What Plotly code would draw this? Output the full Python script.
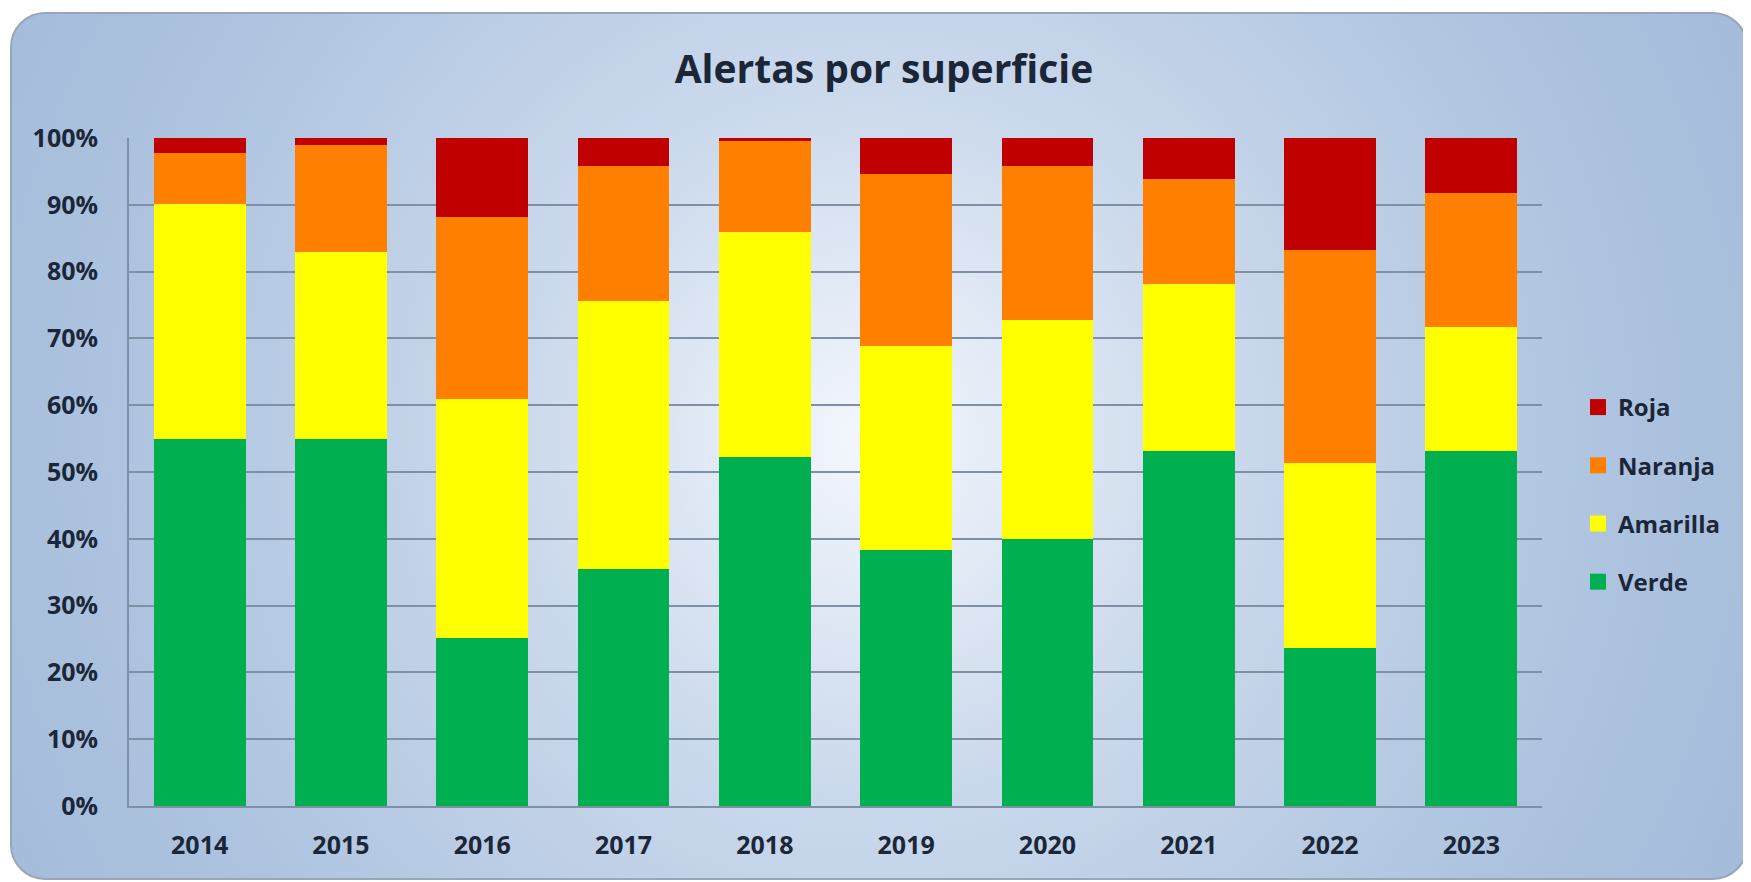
import base64
import plotly.graph_objects as go

years = ["2014", "2015", "2016", "2017", "2018", "2019", "2020", "2021", "2022", "2023"]
verde = [55.0, 55.0, 25.1, 35.5, 52.3, 38.3, 40.0, 53.2, 23.6, 53.2]
amarilla = [35.1, 27.9, 35.9, 40.1, 33.7, 30.6, 32.7, 24.9, 27.7, 18.5]
naranja = [7.6, 16.1, 27.1, 20.2, 13.5, 25.7, 23.1, 15.7, 32.0, 20.1]
roja = [2.3, 1.0, 11.9, 4.2, 0.5, 5.4, 4.2, 6.2, 16.7, 8.2]

OFF = 8  # page body margin
W, H = 1751 - OFF, 882 - OFF
ML, MT = 129 - OFF, 138 - OFF
PR, PB = 1542 - OFF, 806 - OFF
MR, MB = W - PR, H - PB
PW, PH = W - ML - MR, H - MT - MB

svg = f'''<svg xmlns="http://www.w3.org/2000/svg" width="{W}" height="{H}" viewBox="0 0 {W} {H}">
<defs>
<radialGradient id="g" gradientUnits="userSpaceOnUse" cx="{870-OFF}" cy="{440-OFF}" r="1000" fx="{870-OFF}" fy="{440-OFF}">
<stop offset="0%" stop-color="#f4f7fd"/>
<stop offset="35%" stop-color="#cbd9ec"/>
<stop offset="75%" stop-color="#adc3df"/>
<stop offset="100%" stop-color="#a3bbda"/>
</radialGradient>
</defs>
<rect x="0" y="0" width="{W}" height="{H}" fill="#ffffff"/>
<rect x="{11-OFF}" y="{13-OFF}" width="1736" height="866" rx="34" ry="34" fill="url(#g)" stroke="#97a6b8" stroke-width="2"/>
</svg>'''
src = "data:image/svg+xml;base64," + base64.b64encode(svg.encode()).decode()

FAM = "'Open Sans', Lato, sans-serif"
TXT = "#1b2738"

fig = go.Figure()
series = [("Verde", verde, "#00B050", 4), ("Amarilla", amarilla, "#FFFF00", 3),
          ("Naranja", naranja, "#FF8000", 2), ("Roja", roja, "#C00000", 1)]
for name, vals, col, rank in series:
    fig.add_trace(go.Bar(x=years, y=vals, name=name, showlegend=False,
                         marker=dict(color=col, line=dict(width=0))))
for name, vals, col, rank in series:
    fig.add_trace(go.Scatter(x=[None], y=[None], mode="markers", name=f"<b>{name}</b>",
                             legendgroup=name, legendrank=rank,
                             marker=dict(symbol="square", size=16, color=col)))

fig.update_layout(
    width=W, height=H,
    barmode="stack", bargap=0.35,
    margin=dict(l=ML, r=MR, t=MT, b=MB),
    paper_bgcolor="white", plot_bgcolor="rgba(0,0,0,0)",
    font=dict(family=FAM, color=TXT, size=24),
    title=dict(text="<b>Alertas por superficie</b>", x=(884 - OFF) / W, xanchor="center",
               y=1 - (69 - OFF) / H, yanchor="middle",
               font=dict(family=FAM, size=39, color=TXT)),
    legend=dict(x=(1578 - OFF - ML) / PW, xanchor="left",
                y=1 - (385 - 138) / PH, yanchor="top",
                traceorder="grouped", tracegroupgap=24,
                font=dict(family=FAM, size=24, color=TXT),
                bgcolor="rgba(0,0,0,0)", itemwidth=30),
    images=[dict(source=src, xref="paper", yref="paper",
                 x=-ML / PW, y=1 + MT / PH, sizex=W / PW, sizey=H / PH,
                 xanchor="left", yanchor="top", sizing="stretch", layer="below")],
)
fig.update_xaxes(showgrid=False, showline=True, linecolor="#7f8fa6", linewidth=2,
                 ticks="", ticklabelstandoff=16,
                 tickfont=dict(family=FAM, size=25, color=TXT),
                 tickprefix="<b>", ticksuffix="</b>")
fig.update_yaxes(range=[0, 100], dtick=10, ticksuffix="%</b>", tickprefix="<b>",
                 showgrid=True, gridcolor="#7f8fa6", gridwidth=2,
                 showline=True, linecolor="#7f8fa6", linewidth=2, zeroline=False,
                 ticks="", ticklabelstandoff=24,
                 tickfont=dict(family=FAM, size=25, color=TXT))

fig.write_html("out.html")
